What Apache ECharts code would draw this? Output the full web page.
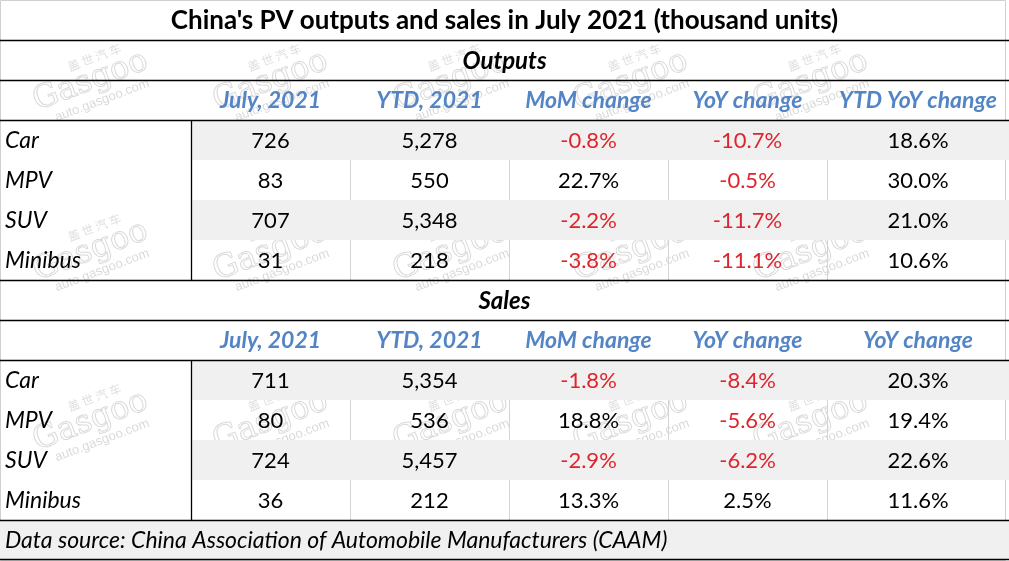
<!DOCTYPE html>
<html>
<head>
<meta charset="utf-8">
<script src="https://cdn.jsdelivr.net/npm/echarts@6/dist/echarts.min.js"></script>
<style>
html,body{margin:0;padding:0;background:#fff;}
#chart{width:1009px;height:561px;}
</style>
</head>
<body>
<div id="chart"></div>
<script>
// ---------- data ----------
const title = "China's PV outputs and sales in July 2021 (thousand units)";
const sectionNames = ['Outputs', 'Sales'];
const categories = ['Car', 'MPV', 'SUV', 'Minibus'];
const outputHeaders = ['July, 2021', 'YTD, 2021', 'MoM change', 'YoY change', 'YTD YoY change'];
const salesHeaders = ['July, 2021', 'YTD, 2021', 'MoM change', 'YoY change', 'YoY change'];
const outputJuly = [726, 83, 707, 31];
const outputYTD = [5278, 550, 5348, 218];
const outputMoM = [-0.8, 22.7, -2.2, -3.8];
const outputYoY = [-10.7, -0.5, -11.7, -11.1];
const outputYTDYoY = [18.6, 30.0, 21.0, 10.6];
const salesJuly = [711, 80, 724, 36];
const salesYTD = [5354, 536, 5457, 212];
const salesMoM = [-1.8, 18.8, -2.9, 13.3];
const salesYoY = [-8.4, -5.6, -6.2, 2.5];
const salesYTDYoY = [20.3, 19.4, 22.6, 11.6];
const sourceNote = 'Data source: China Association of Automobile Manufacturers (CAAM)';

// ---------- layout (table grid in axis units) ----------
const colEdges = [0, 191, 350, 509, 668, 827, 1009];
const rowEdges = [0, 40, 80, 120, 160, 200, 240, 280, 320, 360, 400, 440, 480, 520, 559];
const FONT = 'Lato';
const C_TEXT = '#000000', C_RED = '#e0242c', C_HEAD = '#5385c6', C_FILL = '#f0f0f0';
const C_GRID = '#d4d4d4';

// ---------- build cells ----------
const cells = [];
function fmtNum(v) { return v.toLocaleString('en-US'); }
function fmtPct(v) { return v.toFixed(1) + '%'; }
function add(c0, c1, r, text, style) { cells.push(Object.assign({ c0, c1, r, text }, style)); }

add(0, 6, 0, title, { font: 'bold 26px ' + FONT, align: 'center' });
function section(startRow, name, headers, july, ytd, mom, yoy, ytdyoy) {
  add(0, 6, startRow, name, { font: 'italic bold 24px ' + FONT, align: 'center' });
  headers.forEach((h, i) => add(i + 1, i + 2, startRow + 1, h, { font: 'italic bold 23px ' + FONT, align: 'center', color: C_HEAD }));
  categories.forEach((cat, k) => {
    const r = startRow + 2 + k;
    const fill = (k % 2 === 0) ? C_FILL : null;
    add(0, 1, r, cat, { font: 'italic 23px ' + FONT, align: 'left' });
    const vals = [[fmtNum(july[k]), july[k]], [fmtNum(ytd[k]), ytd[k]], [fmtPct(mom[k]), mom[k]], [fmtPct(yoy[k]), yoy[k]], [fmtPct(ytdyoy[k]), ytdyoy[k]]];
    vals.forEach((v, i) => add(i + 1, i + 2, r, v[0], { font: '22px ' + FONT, align: 'center', color: v[1] < 0 ? C_RED : C_TEXT, fill, grid: !fill && i > 0 }));
  });
}
section(1, sectionNames[0], outputHeaders, outputJuly, outputYTD, outputMoM, outputYoY, outputYTDYoY);
section(7, sectionNames[1], salesHeaders, salesJuly, salesYTD, salesMoM, salesYoY, salesYTDYoY);
add(0, 6, 13, sourceNote, { font: 'italic 23px ' + FONT, align: 'left', fill: C_FILL });

const hRules = [1, 2, 3, 7, 8, 9, 13, 14];
const vRules = [[1, 3, 7], [1, 9, 13]]; // [col edge, row start, row end]

const chart = echarts.init(document.getElementById('chart'), null, { renderer: 'canvas' });

function cellRender(params, api) {
  const c = cells[params.dataIndex];
  const p0 = api.coord([colEdges[c.c0], rowEdges[c.r]]);
  const p1 = api.coord([colEdges[c.c1], rowEdges[c.r + 1]]);
  const children = [];
  if (c.fill) {
    children.push({ type: 'rect', shape: { x: p0[0], y: p0[1], width: p1[0] - p0[0], height: p1[1] - p0[1] }, style: { fill: c.fill } });
  }
  if (c.grid) {
    const x = Math.round(p0[0]) + 0.5;
    children.push({ type: 'line', shape: { x1: x, y1: p0[1], x2: x, y2: p1[1] }, style: { stroke: C_GRID, lineWidth: 1 } });
  }
  if (c.text) {
    const tx = c.align === 'left' ? p0[0] + 5 : (p0[0] + p1[0]) / 2;
    children.push({ type: 'text', style: { text: c.text, x: tx, y: (p0[1] + p1[1]) / 2 + 1, align: c.align, verticalAlign: 'middle', font: c.font, fill: c.color || C_TEXT } });
  }
  return { type: 'group', children };
}

function hRuleRender(params, api) {
  const r = hRules[params.dataIndex];
  const a = api.coord([colEdges[0], rowEdges[r]]);
  const b = api.coord([colEdges[6], rowEdges[r]]);
  const y = Math.round(a[1]) + 0.5;
  return { type: 'line', shape: { x1: a[0], y1: y, x2: b[0], y2: y }, style: { stroke: '#000', lineWidth: 1.3 } };
}
function vRuleRender(params, api) {
  const v = vRules[params.dataIndex];
  const a = api.coord([colEdges[v[0]], rowEdges[v[1]]]);
  const b = api.coord([colEdges[v[0]], rowEdges[v[2]]]);
  const x = Math.round(a[0]) + 0.5;
  return { type: 'line', shape: { x1: x, y1: a[1], x2: x, y2: b[1] }, style: { stroke: '#000', lineWidth: 1.3 } };
}

// watermarks (decorative)
const wmX = [92, 272, 452, 632, 812];
const wmY = [85, 255, 425];
const graphics = [];
wmX.forEach(x => wmY.forEach(y => {
  graphics.push({
    type: 'group', x: x, y: y, rotation: 0.36, z: 100, silent: true,
    children: [
      { type: 'text', x: 12, y: -25, style: { text: '盖 世 汽 车', font: '12px "Noto Sans CJK SC"', fill: 'rgba(160,160,160,0.35)', align: 'center', verticalAlign: 'middle' } },
      { type: 'text', x: 0, y: -4, style: { text: 'Gasgoo', font: '32px "DejaVu Serif"', fill: 'rgba(255,255,255,0)', stroke: 'rgba(160,160,160,0.4)', lineWidth: 1, align: 'center', verticalAlign: 'middle' } },
      { type: 'text', x: 4, y: 18, style: { text: 'auto.gasgoo.com', font: '13px "Liberation Sans"', fill: 'rgba(160,160,160,0.4)', align: 'center', verticalAlign: 'middle' } }
    ]
  });
}));
graphics.push({ type: 'rect', shape: { x: 0.5, y: 0.5, width: 1005, height: 560 }, style: { fill: null, stroke: '#d0d0d0', lineWidth: 1 }, z: -1, silent: true });

chart.setOption({
  animation: false,
  grid: { left: 0, right: 0, top: 0, bottom: 0 },
  xAxis: { type: 'value', min: 0, max: 1009, show: false },
  yAxis: { type: 'value', min: 0, max: 561, inverse: true, show: false },
  graphic: graphics,
  series: [
    { type: 'custom', renderItem: cellRender, data: cells.map(c => [colEdges[c.c0], rowEdges[c.r]]), z: 2, silent: true },
    { type: 'custom', renderItem: hRuleRender, data: hRules.map(r => [0, rowEdges[r]]), z: 3, silent: true },
    { type: 'custom', renderItem: vRuleRender, data: vRules.map(v => [colEdges[v[0]], rowEdges[v[1]]]), z: 3, silent: true }
  ]
});
</script>
</body>
</html>
